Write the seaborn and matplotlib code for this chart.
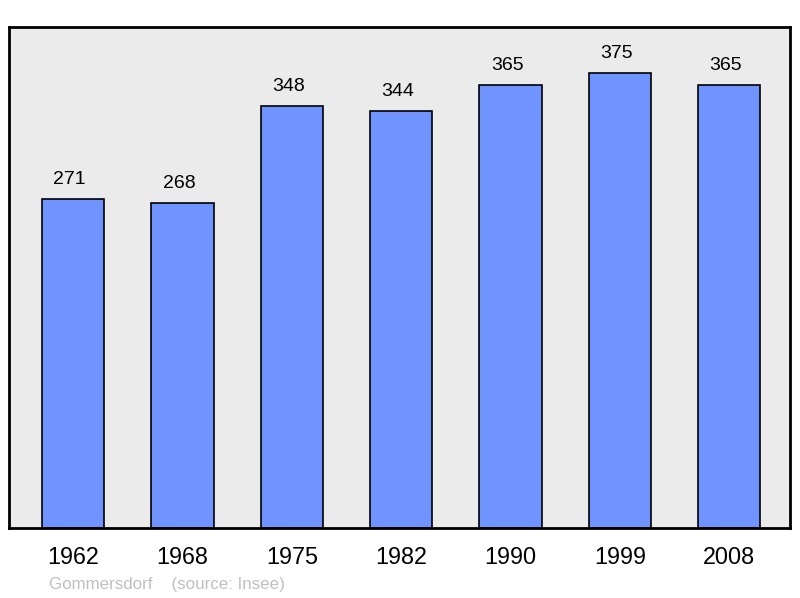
import matplotlib
matplotlib.use('Agg')
import matplotlib.pyplot as plt
import seaborn as sns
import pandas as pd

# Population data
years = ['1962', '1968', '1975', '1982', '1990', '1999', '2008']
population = [271, 268, 348, 344, 365, 375, 365]

sns.set_style('white')
plt.rcParams['font.family'] = ['Liberation Sans', 'DejaVu Sans']

df = pd.DataFrame({'year': years, 'population': population})

fig = plt.figure(figsize=(8, 5.98), dpi=100)
ax = fig.add_axes([9 / 800, 1 - 528 / 598, 781 / 800, 501 / 598])
ax.set_facecolor('#ebebeb')

sns.barplot(data=df, x='year', y='population', color='#7094ff', saturation=1,
            edgecolor='black', linewidth=1.2, width=0.57, ax=ax)

# value labels above bars
for i, v in enumerate(population):
    ax.text(i - 0.03, v + 9, str(v), ha='center', va='bottom', fontsize=14, color='black')

ax.set_xlim(-0.585, 6.555)
ax.set_ylim(0, 413)
ax.set_xlabel('')
ax.set_ylabel('')
ax.set_yticks([])
ax.tick_params(axis='x', length=0, labelsize=16.8, pad=13, labelcolor='black')
for s in ax.spines.values():
    s.set_visible(True)
    s.set_color('black')
    s.set_linewidth(2)

fig.text(49 / 800, 1 - 585 / 598, 'Gommersdorf    (source: Insee)', fontsize=12.2,
         color='#c0c0c0', ha='left', va='center')

fig.savefig('out.png', dpi=100, facecolor='white')
